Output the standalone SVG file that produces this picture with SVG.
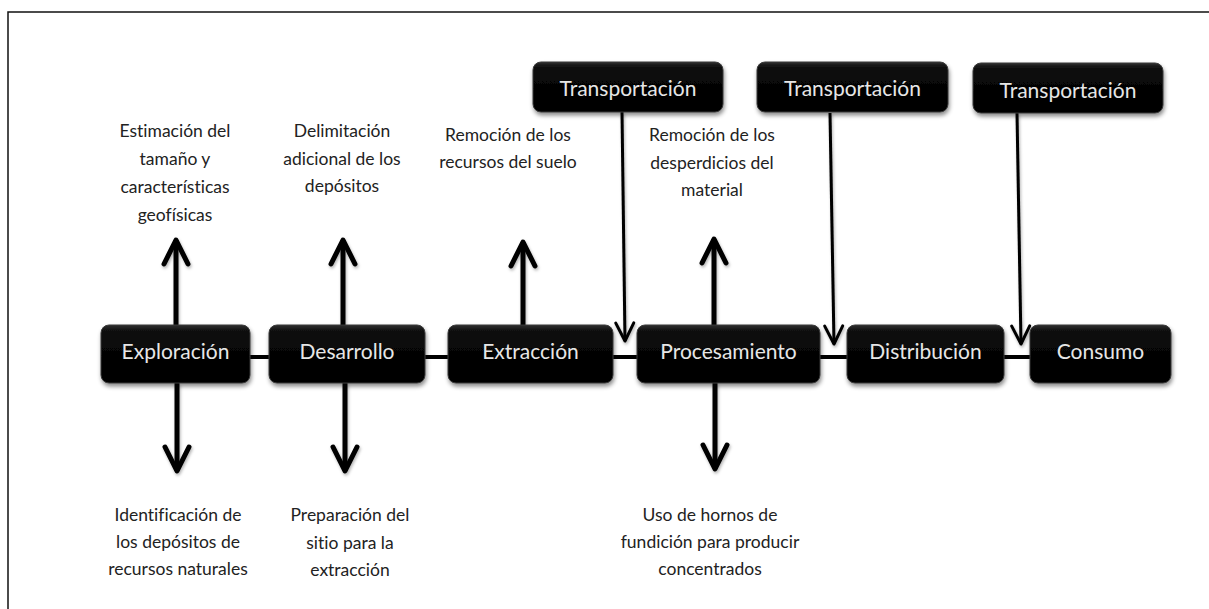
<svg xmlns="http://www.w3.org/2000/svg" width="1209" height="609" viewBox="0 0 1209 609">
<style>
.box{fill:url(#bg);stroke:#3a3a3a;stroke-width:1;filter:url(#sh)}
.nl{font-family:Lato,"Liberation Sans",sans-serif;font-size:21px;fill:#e6e6e6;text-anchor:middle;font-variant-ligatures:none}
.tl{font-family:Lato,"Liberation Sans",sans-serif;font-size:17.5px;fill:#222;text-anchor:middle;font-variant-ligatures:none}
.thick{stroke:#000;stroke-width:5;fill:none;marker-end:url(#hk)}
.thin{stroke:#000;stroke-width:3;fill:none;marker-end:url(#hn)}
.hline{stroke:#000;stroke-width:4;fill:none}
</style>
<defs>
<linearGradient id="bg" x1="0" y1="0" x2="0" y2="1">
<stop offset="0" stop-color="#2e2e2e"/>
<stop offset="0.12" stop-color="#0a0a0a"/>
<stop offset="1" stop-color="#000"/>
</linearGradient>
<filter id="sh" x="-10%" y="-20%" width="125%" height="150%">
<feDropShadow dx="1" dy="3" stdDeviation="2" flood-color="#000" flood-opacity="0.45"/>
</filter>
<filter id="ash" x="-50%" y="-10%" width="200%" height="130%">
<feDropShadow dx="1" dy="2" stdDeviation="1.5" flood-color="#000" flood-opacity="0.3"/>
</filter>
<marker id="hk" markerUnits="userSpaceOnUse" orient="auto" refX="0" refY="0" markerWidth="40" markerHeight="40" overflow="visible">
<path d="M-24,-12 L0,0 L-24,12" fill="none" stroke="#000" stroke-width="5" stroke-linecap="round" stroke-linejoin="round"/>
</marker>
<marker id="hn" markerUnits="userSpaceOnUse" orient="auto" refX="0" refY="0" markerWidth="30" markerHeight="30" overflow="visible">
<path d="M-18,-9 L0,0 L-18,9" fill="none" stroke="#000" stroke-width="3" stroke-linecap="round" stroke-linejoin="round"/>
</marker>
</defs>
<rect width="1209" height="609" fill="#fff"/>
<path d="M8,609 L8,12 L1209,12" fill="none" stroke="#111" stroke-width="1.5"/>
<g id="connectors">
<line class="hline" x1="245" y1="357" x2="1035" y2="357"/>
<g filter="url(#ash)">
<path class="thick" d="M176,325 L176,240"/>
<path class="thick" d="M177,383 L177,471"/>
<path class="thick" d="M343,325 L343,240"/>
<path class="thick" d="M345,383 L345,471"/>
<path class="thick" d="M523,325 L523,242"/>
<path class="thick" d="M714,325 L714,239"/>
<path class="thick" d="M715,383 L715,469"/>
<path class="thin" d="M622,112 L625,341"/>
<path class="thin" d="M830,113 L834,344"/>
<path class="thin" d="M1017,113 L1021,344"/>
</g>
</g>
<g id="exploracion"><rect class="box" x="101" y="325" width="149" height="58" rx="8"/><text class="nl" x="175.5" y="359">Exploración</text></g>
<g id="desarrollo"><rect class="box" x="269" y="325" width="156" height="58" rx="8"/><text class="nl" x="347" y="359">Desarrollo</text></g>
<g id="extraccion"><rect class="box" x="448" y="325" width="165" height="58" rx="8"/><text class="nl" x="530.5" y="359">Extracción</text></g>
<g id="procesamiento"><rect class="box" x="637" y="325" width="183" height="58" rx="8"/><text class="nl" x="728.5" y="359">Procesamiento</text></g>
<g id="distribucion"><rect class="box" x="847" y="325" width="157" height="58" rx="8"/><text class="nl" x="925.5" y="359">Distribución</text></g>
<g id="consumo"><rect class="box" x="1030" y="325" width="141" height="58" rx="8"/><text class="nl" x="1100.5" y="359">Consumo</text></g>
<g id="transport1"><rect class="box" x="533" y="62" width="190" height="50" rx="8"/><text class="nl" x="628" y="96">Transportación</text></g>
<g id="transport2"><rect class="box" x="757" y="62" width="191" height="50" rx="8"/><text class="nl" x="852.5" y="96">Transportación</text></g>
<g id="transport3"><rect class="box" x="973" y="63" width="190" height="50" rx="8"/><text class="nl" x="1068" y="98">Transportación</text></g>
<g id="t-exploracion-up"><text class="tl" x="175" y="137">Estimación del</text><text class="tl" x="175" y="165">tamaño y</text><text class="tl" x="175" y="193">características</text><text class="tl" x="175" y="221">geofísicas</text></g>
<g id="t-desarrollo-up"><text class="tl" x="342" y="137">Delimitación</text><text class="tl" x="342" y="165">adicional de los</text><text class="tl" x="342" y="192">depósitos</text></g>
<g id="t-extraccion-up"><text class="tl" x="508" y="141">Remoción de los</text><text class="tl" x="508" y="168">recursos del suelo</text></g>
<g id="t-procesamiento-up"><text class="tl" x="712" y="141">Remoción de los</text><text class="tl" x="712" y="169">desperdicios del</text><text class="tl" x="712" y="196">material</text></g>
<g id="t-exploracion-down"><text class="tl" x="178" y="521">Identificación de</text><text class="tl" x="178" y="548">los depósitos de</text><text class="tl" x="178" y="575">recursos naturales</text></g>
<g id="t-desarrollo-down"><text class="tl" x="350" y="521">Preparación del</text><text class="tl" x="350" y="549">sitio para la</text><text class="tl" x="350" y="576">extracción</text></g>
<g id="t-procesamiento-down"><text class="tl" x="710" y="521">Uso de hornos de</text><text class="tl" x="710" y="548">fundición para producir</text><text class="tl" x="710" y="575">concentrados</text></g>
</svg>
